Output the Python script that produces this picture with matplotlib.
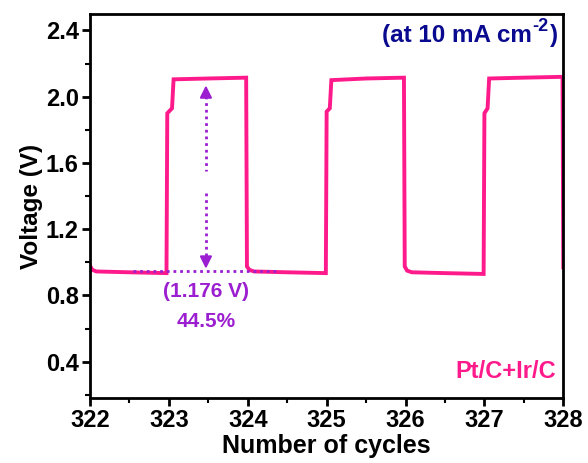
import matplotlib
matplotlib.use("Agg")
import matplotlib.pyplot as plt
from matplotlib.ticker import MultipleLocator, FormatStrFormatter
from matplotlib.transforms import offset_copy

plt.rcParams['font.family'] = ['Liberation Sans', 'DejaVu Sans']
plt.rcParams['font.weight'] = 'bold'

# Galvanostatic cycling trace (cycle number, voltage)
cycles = [322.0, 322.03, 322.08, 322.5, 322.97, 322.98, 323.04, 323.06, 323.5, 323.98,
          323.99, 324.02, 324.08, 324.5, 324.99, 325.0, 325.04, 325.06, 325.5, 325.98,
          325.99, 326.02, 326.08, 326.5, 326.99, 327.0, 327.04, 327.06, 327.5, 327.99,
          328.0]
voltage = [0.98, 0.955, 0.945, 0.94, 0.935, 1.90, 1.93, 2.105, 2.11, 2.115,
           0.975, 0.955, 0.945, 0.94, 0.935, 1.91, 1.93, 2.10, 2.11, 2.115,
           0.975, 0.950, 0.940, 0.935, 0.930, 1.90, 1.93, 2.11, 2.115, 2.12,
           0.97]

gap_x = 323.47
gap_low, gap_high = 0.945, 2.085
gap_label = "(1.176 V)"
gap_pct = "44.5%"

pink = '#ff1a8c'
purple = '#9b1fd0'
navy = '#0a0a90'

fig = plt.figure(figsize=(5.88, 4.63), dpi=100)
ax = fig.add_axes([0.153, 0.14, 0.805, 0.83])

ax.plot(cycles, voltage, color=pink, lw=2.8, solid_joinstyle='miter')

# dotted baseline and double arrow marking the voltage gap
dots = (0, (1, 1.4))
ax.plot([322.55, 324.38], [gap_low, gap_low], color=purple, lw=2, ls=dots)
ax.plot([gap_x, gap_x], [gap_high - 0.08, 1.55], color=purple, lw=2, ls=dots)
ax.plot([gap_x, gap_x], [1.42, gap_low + 0.08], color=purple, lw=2, ls=dots)
ax.annotate('', xy=(gap_x, gap_high), xytext=(gap_x, gap_high - 0.11),
            arrowprops=dict(arrowstyle='-|>', color=purple, lw=1.5, mutation_scale=18))
ax.annotate('', xy=(gap_x, gap_low), xytext=(gap_x, gap_low + 0.11),
            arrowprops=dict(arrowstyle='-|>', color=purple, lw=1.5, mutation_scale=18))
ax.text(gap_x, 0.825, gap_label, color=purple, fontsize=15, fontweight='bold',
        ha='center', va='center')
ax.text(gap_x, 0.645, gap_pct, color=purple, fontsize=15, fontweight='bold',
        ha='center', va='center')

# current density note, built from pieces so the superscript keeps a plain hyphen
fig.canvas.draw()
close = ax.text(0.988, 0.945, ')', transform=ax.transAxes, color=navy,
                fontsize=17.5, fontweight='bold', ha='right', va='center')
r = fig.canvas.get_renderer()
w = close.get_window_extent(r).width
sup = ax.text(0.988, 0.945, '-2', color=navy, fontsize=13, fontweight='bold',
              ha='right', va='center',
              transform=offset_copy(ax.transAxes, fig=fig, x=-w * 72 / fig.dpi - 0.5, y=6, units='points'))
w2 = sup.get_window_extent(r).width
ax.text(0.988, 0.945, '(at 10 mA cm', color=navy, fontsize=17.5, fontweight='bold',
        ha='right', va='center',
        transform=offset_copy(ax.transAxes, fig=fig, x=-(w + w2) * 72 / fig.dpi - 1, y=0, units='points'))

ax.text(0.985, 0.07, 'Pt/C+Ir/C', transform=ax.transAxes,
        color=pink, fontsize=17, fontweight='bold', ha='right', va='center')

ax.set_xlim(322, 328)
ax.set_ylim(0.18, 2.5)
ax.xaxis.set_major_locator(MultipleLocator(1))
ax.xaxis.set_minor_locator(MultipleLocator(0.5))
ax.yaxis.set_major_locator(MultipleLocator(0.4))
ax.yaxis.set_minor_locator(MultipleLocator(0.2))
ax.yaxis.set_major_formatter(FormatStrFormatter('%.1f'))

for s in ax.spines.values():
    s.set_linewidth(2)
ax.tick_params(which='major', direction='out', length=6, width=2, labelsize=17, pad=2)
ax.tick_params(which='minor', direction='out', length=3.5, width=1.5)
for lab in ax.get_xticklabels() + ax.get_yticklabels():
    lab.set_fontweight('bold')

ax.set_xlabel('Number of cycles', fontsize=18, fontweight='bold', labelpad=1)
ax.set_ylabel('Voltage (V)', fontsize=17.5, fontweight='bold', labelpad=2)

fig.savefig('out.png', dpi=100, facecolor='white')
